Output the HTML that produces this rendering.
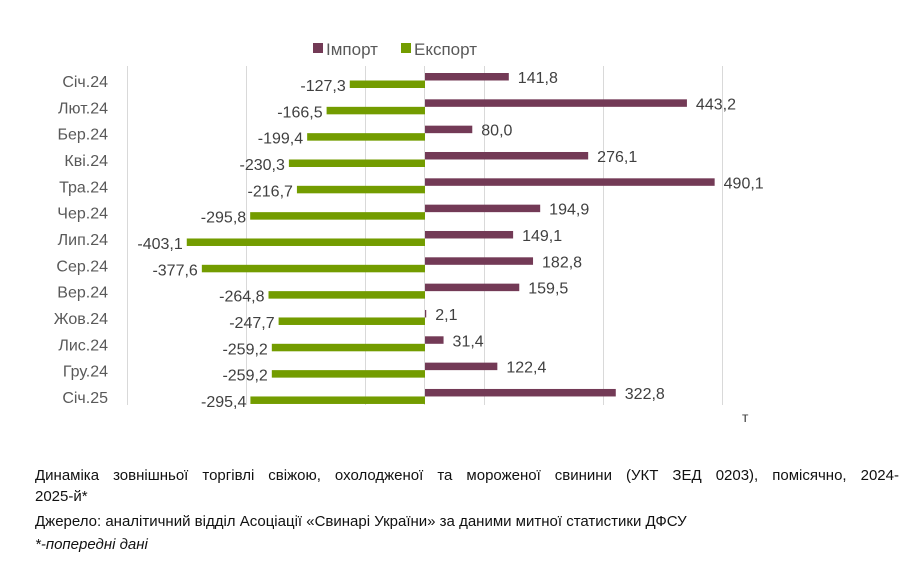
<!DOCTYPE html>
<html><head><meta charset="utf-8"><style>
body{margin:0;background:#fff;width:919px;height:585px;overflow:hidden;font-family:"Liberation Sans",sans-serif;}
.cap{position:absolute;left:35px;width:864px;font-size:15px;color:#111;text-align:justify;text-align-last:justify;line-height:21px}
</style></head><body>
<svg width="919" height="585" style="position:absolute;left:0;top:0" font-family="Liberation Sans, sans-serif">
<g stroke="#d9d9d9" stroke-width="1">
<line x1="127.5" y1="66" x2="127.5" y2="405"/><line x1="246.5" y1="66" x2="246.5" y2="405"/>
<line x1="365.5" y1="66" x2="365.5" y2="405"/><line x1="484.5" y1="66" x2="484.5" y2="405"/>
<line x1="603.5" y1="66" x2="603.5" y2="405"/><line x1="722.5" y1="66" x2="722.5" y2="405"/>
<line x1="424.5" y1="66" x2="424.5" y2="405"/>
</g>
<rect x="313" y="43" width="10" height="10" fill="#733a56"/>
<text x="326" y="55" font-size="17" fill="#595959">Імпорт</text>
<rect x="401" y="43" width="10" height="10" fill="#739c00"/>
<text x="414" y="55" font-size="17" fill="#595959">Експорт</text>
<g id="rows" font-size="16" fill="#404040"></g>
<text x="742" y="422" font-size="14" fill="#404040">т</text>
</svg>
<div class="cap" style="top:465px">Динаміка зовнішньої торгівлі свіжою, охолодженої та мороженої свинини (УКТ ЗЕД 0203), помісячно, 2024-</div>
<div class="cap" style="top:486px;text-align-last:left">2025-й*</div>
<div class="cap" style="top:511px;text-align-last:left;width:auto">Джерело: аналітичний відділ Асоціації «Свинарі України» за даними митної статистики ДФСУ</div>
<div class="cap" style="top:534px;text-align-last:left;width:auto;font-style:italic">*-попередні дані</div>
<script>
var d=[["Січ.24",141.8,-127.3],["Лют.24",443.2,-166.5],["Бер.24",80.0,-199.4],["Кві.24",276.1,-230.3],["Тра.24",490.1,-216.7],["Чер.24",194.9,-295.8],["Лип.24",149.1,-403.1],["Сер.24",182.8,-377.6],["Вер.24",159.5,-264.8],["Жов.24",2.1,-247.7],["Лис.24",31.4,-259.2],["Гру.24",122.4,-259.2],["Січ.25",322.8,-295.4]];
var g=document.getElementById("rows"),s="",k=0.591,z=425;
function f(v){return v.toFixed(1).replace(".",",")}
d.forEach(function(r,i){var y=73+i*26.33;
s+='<rect x="'+z+'" y="'+y+'" width="'+(r[1]*k)+'" height="7.5" fill="#733a56"/>';
s+='<rect x="'+(z+r[2]*k)+'" y="'+(y+7.5)+'" width="'+(-r[2]*k)+'" height="7.5" fill="#739c00"/>';
s+='<text x="'+(z+r[1]*k+9)+'" y="'+(y+10)+'">'+f(r[1])+'</text>';
s+='<text x="'+(z+r[2]*k-4)+'" y="'+(y+18)+'" text-anchor="end">'+f(r[2])+'</text>';
s+='<text x="108" y="'+(y+14)+'" text-anchor="end" fill="#595959">'+r[0]+'</text>';});
g.innerHTML=s;
</script>
</body></html>
